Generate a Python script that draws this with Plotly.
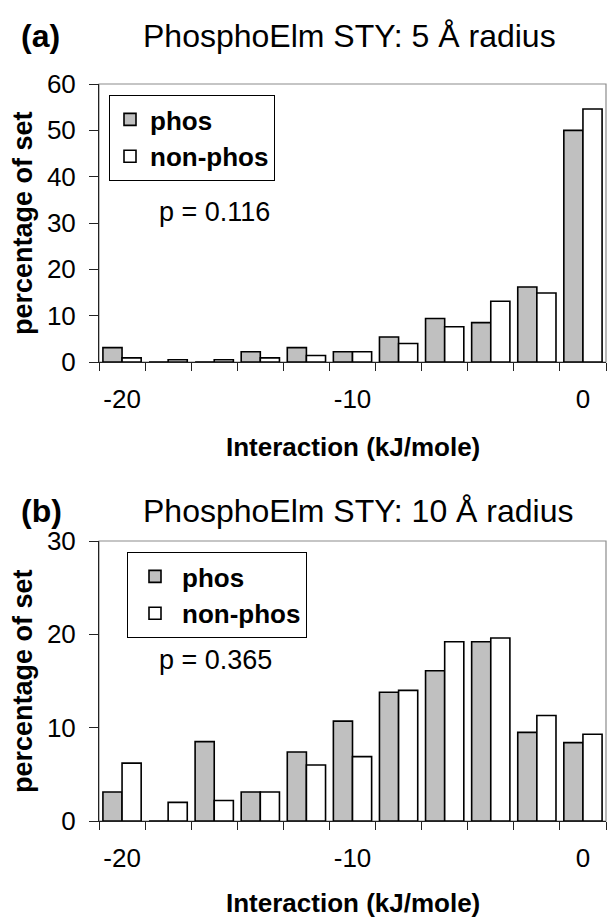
import plotly.graph_objects as go

# ---------------- data ----------------
bins = [-20, -18, -16, -14, -12, -10, -8, -6, -4, -2, 0]
tick_vals = [-20, -10, 0]
tick_text = ["-20", "-10", "0"]
series_names = ["phos", "non-phos"]

phos_5A = [3.1, 0.0, 0.0, 2.2, 3.1, 2.2, 5.4, 9.4, 8.5, 16.2, 50.0]
nonphos_5A = [0.9, 0.5, 0.5, 0.9, 1.4, 2.2, 4.0, 7.6, 13.1, 14.9, 54.6]

phos_10A = [3.1, 0.0, 8.5, 3.1, 7.4, 10.7, 13.8, 16.1, 19.2, 9.5, 8.4]
nonphos_10A = [6.2, 2.0, 2.2, 3.1, 6.0, 6.9, 14.0, 19.2, 19.6, 11.3, 9.3]

panel_labels = ["(a)", "(b)"]
panel_titles = ["PhosphoElm STY: 5 Å radius", "PhosphoElm STY: 10 Å radius"]
p_values = ["p = 0.116", "p = 0.365"]
y_title = "percentage of set"
x_title = "Interaction (kJ/mole)"

# ---------------- layout geometry ----------------
W, H = 608, 920
L, R, T, B = 99, 2, 84, 99
PW, PH = W - L - R, H - T - B

def px(x):
    return (x - L) / PW

def py(y):
    return (H - B - y) / PH

FONT = "Liberation Sans, Arial, sans-serif"
PHOS_COLOR = "#C0C0C0"
AXIS_COLOR = "#222222"
BORDER_COLOR = "#8c8c8c"

fig = go.Figure()

panels = [
    dict(phos=phos_5A, non=nonphos_5A, xa="x", ya="y", legend="legend"),
    dict(phos=phos_10A, non=nonphos_10A, xa="x2", ya="y2", legend="legend2"),
]

for p in panels:
    fig.add_trace(go.Bar(
        x=bins, y=p["phos"], name=series_names[0], xaxis=p["xa"], yaxis=p["ya"],
        legend=p["legend"],
        marker=dict(color=PHOS_COLOR, line=dict(color="black", width=1.6)),
    ))
    fig.add_trace(go.Bar(
        x=bins, y=p["non"], name=series_names[1], xaxis=p["xa"], yaxis=p["ya"],
        legend=p["legend"],
        marker=dict(color="white", line=dict(color="black", width=1.6)),
    ))

boundaries = [b - 1 for b in bins] + [bins[-1] + 1]

xaxis_common = dict(
    range=[bins[0] - 1, bins[-1] + 1],
    tickvals=tick_vals, ticktext=tick_text,
    ticks="", showgrid=False, zeroline=False,
    showline=True, linecolor=AXIS_COLOR, linewidth=1,
    tickfont=dict(family=FONT, size=26, color="black"),
    ticklabelstandoff=14,
    minor=dict(tickvals=boundaries, ticks="outside", ticklen=8,
               tickcolor=AXIS_COLOR, tickwidth=1, showgrid=False),
)
yaxis_common = dict(
    dtick=10, ticks="outside", ticklen=9, tickcolor=AXIS_COLOR, tickwidth=1,
    showgrid=False, zeroline=False, showline=True, linecolor=AXIS_COLOR, linewidth=1,
    tickfont=dict(family=FONT, size=26, color="black"),
    ticklabelstandoff=8,
)

top_dom = [py(362), py(84)]
bot_dom = [py(821), py(541)]

legend_font = dict(family=FONT, size=26, color="black", weight="bold")

fig.update_layout(
    width=W, height=H,
    margin=dict(l=L, r=R, t=T, b=B),
    paper_bgcolor="white", plot_bgcolor="white",
    barmode="group", bargap=0.17, bargroupgap=0,
    font=dict(family=FONT, color="black"),
    xaxis=dict(domain=[0, 1], anchor="y", **xaxis_common),
    xaxis2=dict(domain=[0, 1], anchor="y2", **xaxis_common),
    yaxis=dict(domain=top_dom, anchor="x", range=[0, 60], **yaxis_common),
    yaxis2=dict(domain=bot_dom, anchor="x2", range=[0, 30], **yaxis_common),
    legend=dict(x=px(109), y=py(95), xanchor="left", yanchor="top",
                bgcolor="white", bordercolor="black", borderwidth=1,
                font=legend_font, tracegroupgap=0, itemclick=False),
    legend2=dict(x=px(127), y=py(552), xanchor="left", yanchor="top",
                 bgcolor="white", bordercolor="black", borderwidth=1,
                 font=legend_font, tracegroupgap=0, itemclick=False,
                 itemwidth=44),
    showlegend=True,
)

# plot-area borders (grey frame like the original)
for xa, ya in [("x", "y"), ("x2", "y2")]:
    fig.add_shape(type="rect", xref=f"{xa} domain", yref=f"{ya} domain",
                  x0=0, x1=1, y0=0, y1=1, line=dict(color=BORDER_COLOR, width=1.2),
                  layer="below")

ann = []
title_y = [36, 511]
plot_mid = [(84 + 362) / 2, (541 + 821) / 2]
xtitle_y = [447, 903]
p_y = [212, 660]
for i in range(2):
    ann.append(dict(text=panel_labels[i], x=px(19), y=py(title_y[i]), xref="paper", yref="paper",
                    xanchor="left", yanchor="middle", showarrow=False,
                    font=dict(family=FONT, size=32, color="black", weight="bold")))
    ann.append(dict(text=panel_titles[i], x=px(141), y=py(title_y[i]), xref="paper", yref="paper",
                    xanchor="left", yanchor="middle", showarrow=False,
                    font=dict(family=FONT, size=32, color="black")))
    ann.append(dict(text=y_title, x=px(23), y=py(plot_mid[i]), xref="paper", yref="paper",
                    xanchor="center", yanchor="middle", textangle=-90, showarrow=False,
                    font=dict(family=FONT, size=27, color="black", weight="bold")))
    ann.append(dict(text=x_title, x=px(352.5), y=py(xtitle_y[i]), xref="paper", yref="paper",
                    xanchor="center", yanchor="middle", showarrow=False,
                    font=dict(family=FONT, size=26, color="black", weight="bold")))
    ann.append(dict(text=p_values[i], x=px(157), y=py(p_y[i]), xref="paper", yref="paper",
                    xanchor="left", yanchor="middle", showarrow=False,
                    font=dict(family=FONT, size=27, color="black")))
fig.update_layout(annotations=ann)

fig.write_html("out.html",
               config={"displayModeBar": False},
               post_script="document.body.style.margin='0';document.body.style.padding='0';")
